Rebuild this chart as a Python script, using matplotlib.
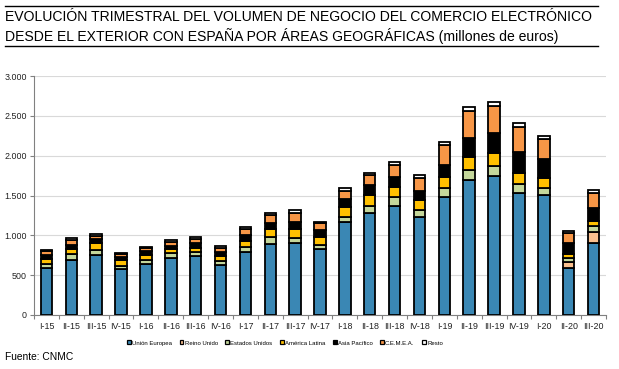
import numpy as np
import matplotlib.pyplot as plt
from matplotlib.patches import Patch
from matplotlib.lines import Line2D

plt.rcParams['font.family'] = ['Liberation Sans', 'DejaVu Sans']

quarters = ['I-15', 'II-15', 'III-15', 'IV-15', 'I-16', 'II-16', 'III-16', 'IV-16',
            'I-17', 'II-17', 'III-17', 'IV-17', 'I-18', 'II-18', 'III-18', 'IV-18',
            'I-19', 'II-19', 'III-19', 'IV-19', 'I-20', 'II-20', 'III-20']

# millones de euros
union_europea = [586, 690, 753, 573, 640, 719, 740, 628, 795, 887, 900, 828,
                 1167, 1276, 1368, 1234, 1485, 1694, 1748, 1535, 1506, 594, 900]
reino_unido = [0, 0, 0, 0, 0, 0, 0, 0, 0, 0, 0, 0,
               0, 0, 0, 0, 0, 0, 0, 0, 0, 75, 145]
estados_unidos = [55, 70, 63, 42, 50, 55, 47, 50, 62, 88, 70, 50,
                  67, 92, 117, 84, 113, 126, 126, 105, 84, 50, 72]
america_latina = [60, 67, 84, 75, 63, 54, 58, 62, 76, 100, 105, 105,
                  125, 138, 125, 125, 138, 167, 155, 146, 126, 50, 63]
asia_pacifico = [55, 50, 54, 42, 50, 42, 55, 55, 71, 83, 96, 84,
                 93, 126, 126, 113, 147, 230, 251, 263, 242, 138, 159]
cemea = [45, 63, 41, 34, 34, 50, 58, 50, 79, 97, 113, 84,
         108, 121, 147, 167, 250, 343, 347, 307, 247, 118, 188]
resto = [15, 22, 25, 16, 20, 21, 25, 21, 25, 21, 34, 20,
         30, 33, 33, 34, 34, 54, 42, 50, 45, 33, 42]

series = [
    ('Unión Europea', union_europea, '#3a87b4'),
    ('Reino Unido', reino_unido, '#fac08f'),
    ('Estados Unidos', estados_unidos, '#c4d79b'),
    ('América Latina', america_latina, '#ffc000'),
    ('Asia Pacífico', asia_pacifico, '#000000'),
    ('C.E.M.E.A.', cemea, '#f79646'),
    ('Resto', resto, '#ffffff'),
]

fig = plt.figure(figsize=(6.19, 3.69), dpi=100)
ax = fig.add_axes([34 / 619, 1 - 315 / 369, 572 / 619, 239 / 369])

x = np.arange(len(quarters))
bottom = np.zeros(len(quarters))
for name, vals, color in series:
    vals = np.array(vals, dtype=float)
    ax.bar(x, vals, width=0.46, bottom=bottom, color=color,
           edgecolor='black', linewidth=1.3, zorder=3)
    bottom += vals

ax.set_xlim(-0.45, len(quarters) - 0.55)
ax.set_ylim(0, 3000)
ax.set_yticks(np.arange(0, 3001, 500))
ax.set_yticklabels(['0', '500', '1.000', '1.500', '2.000', '2.500', '3.000'])
ax.yaxis.grid(True, color='#d9d9d9', linewidth=0.8, zorder=0)
ax.set_xticks(x)
ax.set_xticklabels(quarters)
ax.tick_params(axis='x', length=0, labelsize=6.4, pad=5, colors='#222222')
ax.set_xticks(np.arange(-0.5, len(quarters)), minor=True)
ax.tick_params(axis='x', which='minor', length=3, color='#808080', width=0.8)
ax.tick_params(axis='y', length=3, color='#808080', width=0.8, labelsize=6.4,
               colors='#222222', pad=2)
for s in ['top', 'right']:
    ax.spines[s].set_visible(False)
for s in ['left', 'bottom']:
    ax.spines[s].set_color('#808080')
    ax.spines[s].set_linewidth(0.8)

# title block with rules
fig.add_artist(Line2D([5 / 619, 598 / 619], [1 - 6 / 369, 1 - 6 / 369], color='black', linewidth=1.0))
fig.add_artist(Line2D([5 / 619, 598 / 619], [1 - 46 / 369, 1 - 46 / 369], color='black', linewidth=1.0))
fig.text(5 / 619, 1 - 17 / 369, 'EVOLUCIÓN TRIMESTRAL DEL VOLUMEN DE NEGOCIO DEL COMERCIO ELECTRÓNICO',
         fontsize=10.1, va='center', ha='left')
fig.text(5 / 619, 1 - 36 / 369, 'DESDE EL EXTERIOR CON ESPAÑA POR ÁREAS GEOGRÁFICAS (millones de euros)',
         fontsize=10.1, va='center', ha='left')

handles = [Patch(facecolor=c, edgecolor='black', linewidth=0.9) for _, _, c in series]
labels = [n for n, _, _ in series]
fig.legend(handles, labels, loc='center', bbox_to_anchor=(285 / 619, 1 - 343 / 369),
           ncol=7, frameon=False, fontsize=4.3, handlelength=0.6, handleheight=0.6,
           handletextpad=0.2, columnspacing=1.3)

fig.text(5 / 619, 1 - 357 / 369, 'Fuente: CNMC', fontsize=7.4, va='center', ha='left')

fig.savefig('out.png', dpi=100)
